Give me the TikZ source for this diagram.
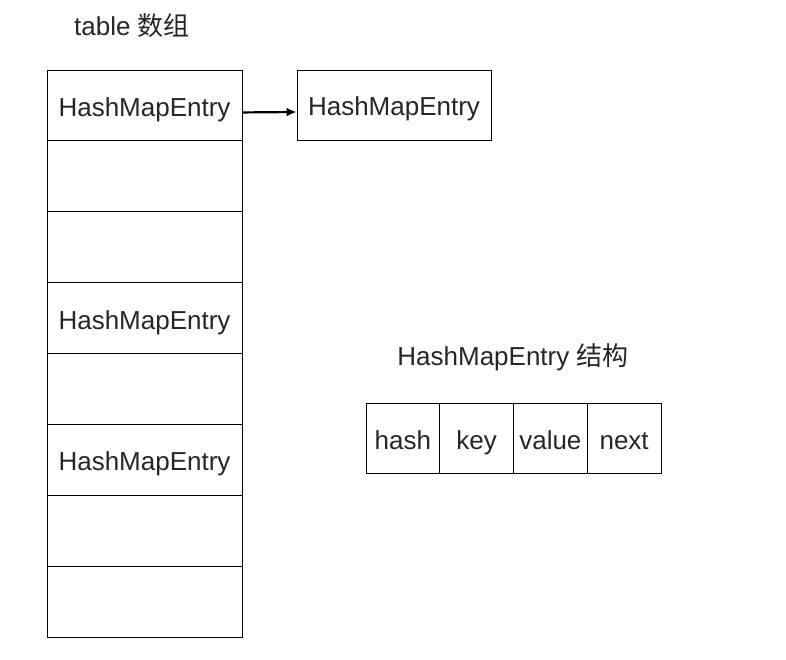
\documentclass[tikz,border=0pt]{standalone}
\usepackage{fontspec}
\setmainfont{Liberation Sans}
\newfontfamily\cjk{Noto Sans CJK SC}
\usepackage{tikz}
\usetikzlibrary{arrows.meta}

\tikzset{
  cell/.style={draw, line width=0.9pt, minimum width=195pt, minimum height=70.9pt, inner sep=0pt},
  field/.style={draw, line width=0.9pt, minimum width=73.75pt, minimum height=70pt, inner sep=0pt},
  lbl/.style={font=\fontsize{26}{30}\selectfont, text=black!85},
  inbox/.style={text height=22pt, text depth=0pt},
}

\begin{document}
\begin{tikzpicture}[>=Latex, x=1pt, y=-1pt]
  \useasboundingbox (0,0) rectangle (786,660);
  \node[lbl] (title) at (132,26) {table {\cjk 数组}};
  \foreach \i/\t in {1/HashMapEntry,2/,3/,4/HashMapEntry,5/,6/HashMapEntry,7/,8/}
    \node[cell, lbl, inbox] (r\i) at (144.5, {70+70.9*(\i-1)+35.45}) {\t};
  \node[cell, lbl, inbox, minimum width=194pt, minimum height=70pt] (entry) at (394,105) {HashMapEntry};
  \draw[line width=2.2pt, -{Latex[length=10pt,width=9pt]}] ([yshift=-7pt]r1.east) -- ([yshift=-7pt]entry.west);

  \node[lbl] (structtitle) at (513,357) {HashMapEntry {\cjk 结构}};
  \foreach \i/\t in {1/hash,2/key,3/value,4/next}
    \node[field, lbl, inbox] (s\i) at ({366+73.75*(\i-1)+36.875},438) {\t};
\end{tikzpicture}
\end{document}
